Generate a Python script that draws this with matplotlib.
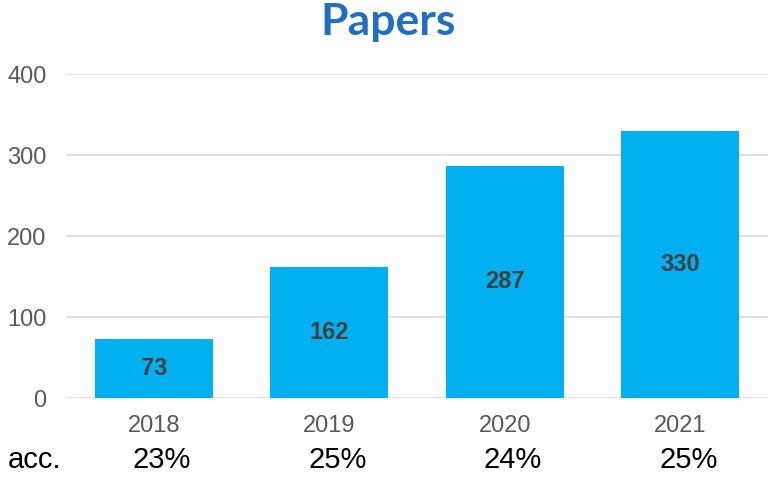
import matplotlib.pyplot as plt

# values
years = ['2018', '2019', '2020', '2021']
papers = [73, 162, 287, 330]
acceptance = ['23%', '25%', '24%', '25%']
y_ticks = [0, 100, 200, 300, 400]

BAR_COLOR = '#00B0F0'
GRID_COLOR = '#D9D9D9'
TICK_COLOR = '#595959'

fig = plt.figure(figsize=(7.68, 4.78), dpi=100)
ax = fig.add_axes([0.086, 0.167, 0.914, 0.678])

x = range(len(years))
bars = ax.bar(x, papers, width=0.67, color=BAR_COLOR, zorder=2)

for rect, val in zip(bars, papers):
    ax.text(rect.get_x() + rect.get_width() / 2, val / 2, str(val),
            ha='center', va='center', fontsize=17, fontweight='bold',
            color='#404040', family='Liberation Sans')

ax.set_xlim(-0.5, len(years) - 0.5)
ax.set_ylim(0, 400)
ax.set_yticks(y_ticks)
ax.set_xticks(list(x))
ax.set_xticklabels(years)
ax.yaxis.grid(True, color=GRID_COLOR, linewidth=1.2, zorder=0)
ax.set_axisbelow(True)
for s in ax.spines.values():
    s.set_visible(False)
ax.tick_params(axis='both', length=0, labelsize=17, labelcolor=TICK_COLOR)
ax.tick_params(axis='x', pad=12)
ax.tick_params(axis='y', pad=14)
for lab in ax.get_xticklabels() + ax.get_yticklabels():
    lab.set_family('Liberation Sans')

# acceptance-rate row under the year labels
fig.text(0.010, 0.038, 'acc.', fontsize=21, family='Liberation Sans',
         color='black', ha='left', va='center')
for i, acc in enumerate(acceptance):
    xd = ax.transData.transform((i, 0))[0]
    xf = fig.transFigure.inverted().transform((xd + 8, 0))[0]
    fig.text(xf, 0.038, acc, fontsize=21, family='Liberation Sans',
             color='black', ha='center', va='center')

fig.text(0.505, 0.955, 'Papers', fontsize=32, fontweight='bold',
         family='Lato', color='#1F70C1', ha='center', va='center')

fig.savefig('out.png', dpi=100)
